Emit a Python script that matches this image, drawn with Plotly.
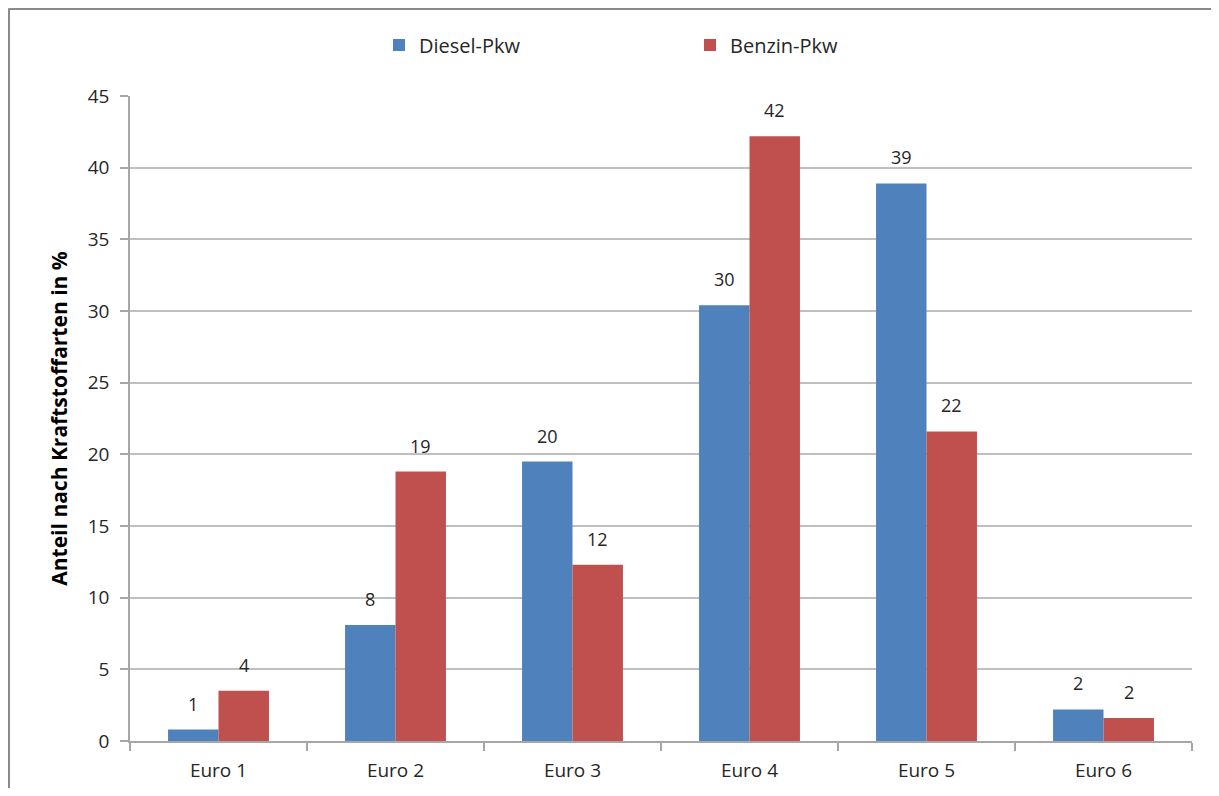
import plotly.graph_objects as go

categories = ["Euro 1", "Euro 2", "Euro 3", "Euro 4", "Euro 5", "Euro 6"]
diesel = [0.8, 8.1, 19.5, 30.4, 38.9, 2.2]
benzin = [3.5, 18.8, 12.3, 42.2, 21.6, 1.6]
series_names = ["Diesel-Pkw", "Benzin-Pkw"]
y_title = "Anteil nach Kraftstoffarten in %"

BLUE = "#4F81BD"
RED = "#C0504D"
FONT = "Open Sans"

OFF = 8  # default page body margin
W, H = 1219 - 2 * OFF, 796 - 2 * OFF
ML, MT = 130 - OFF, 96 - OFF
MR = OFF + W - 1192
MB = OFF + H - 741
PW = W - ML - MR
PH = H - MT - MB

fig = go.Figure()
fig.add_trace(go.Bar(x=categories, y=diesel, name=series_names[0],
                     marker=dict(color=BLUE, line=dict(width=0))))
fig.add_trace(go.Bar(x=categories, y=benzin, name=series_names[1],
                     marker=dict(color=RED, line=dict(width=0))))

cat_w = PW / len(categories)
bar_w = cat_w * (1 - 0.43) / 2
annotations = []
for vals, sgn in ((diesel, -1), (benzin, 1)):
    for c, v in zip(categories, vals):
        annotations.append(dict(
            x=c, y=v, xref="x", yref="y", text=f"{round(v + 1e-9):.0f}",
            showarrow=False, yanchor="bottom", xanchor="center",
            xshift=sgn * bar_w / 2, yshift=12,
            font=dict(family=FONT, size=18, color="#262626")))

fx0 = (8.5 - OFF - ML) / PW
fy1 = 1 + (MT - (8.5 - OFF)) / PH
fx1 = 1 + MR / PW
shapes = [
    dict(type="line", xref="paper", yref="paper", x0=fx0, x1=fx0, y0=-MB / PH, y1=fy1,
         line=dict(color="#8a8a8a", width=3)),
    dict(type="line", xref="paper", yref="paper", x0=fx0, x1=fx1, y0=fy1, y1=fy1,
         line=dict(color="#8a8a8a", width=3)),
]

fig.update_layout(
    width=W, height=H,
    margin=dict(l=ML, r=MR, t=MT, b=MB, autoexpand=False),
    paper_bgcolor="white", plot_bgcolor="white",
    barmode="group", bargap=0.43, bargroupgap=0,
    font=dict(family=FONT, size=18, color="#262626"),
    legend=dict(orientation="h", x=(379 - ML - OFF) / PW, xanchor="left",
                y=1 + (MT - (45 - OFF)) / PH, yanchor="middle",
                font=dict(family=FONT, size=20, color="#262626"),
                entrywidth=266, entrywidthmode="pixels",
                bgcolor="rgba(0,0,0,0)"),
    annotations=annotations,
    shapes=shapes,
    xaxis=dict(showline=True, linecolor="#a6a6a6", linewidth=1.5,
               ticks="outside", tickson="boundaries", ticklen=8,
               tickcolor="#a6a6a6", tickwidth=1.5, showgrid=False,
               ticklabelstandoff=11, automargin=False,
               tickfont=dict(family=FONT, size=19, color="#262626")),
    yaxis=dict(range=[0, 45], dtick=5, showgrid=True, gridcolor="#bfbfbf",
               gridwidth=1.5, zeroline=False, showline=True,
               linecolor="#a6a6a6", linewidth=1.5, ticks="outside", ticklen=8,
               tickcolor="#a6a6a6", tickwidth=1.5, ticklabelstandoff=7,
               automargin=False,
               tickfont=dict(family=FONT, size=19, color="#262626"),
               title=dict(text="<b>" + y_title + "</b>", standoff=14,
                          font=dict(family=FONT, size=21, color="black"))),
)

fig.write_html("out.html")
